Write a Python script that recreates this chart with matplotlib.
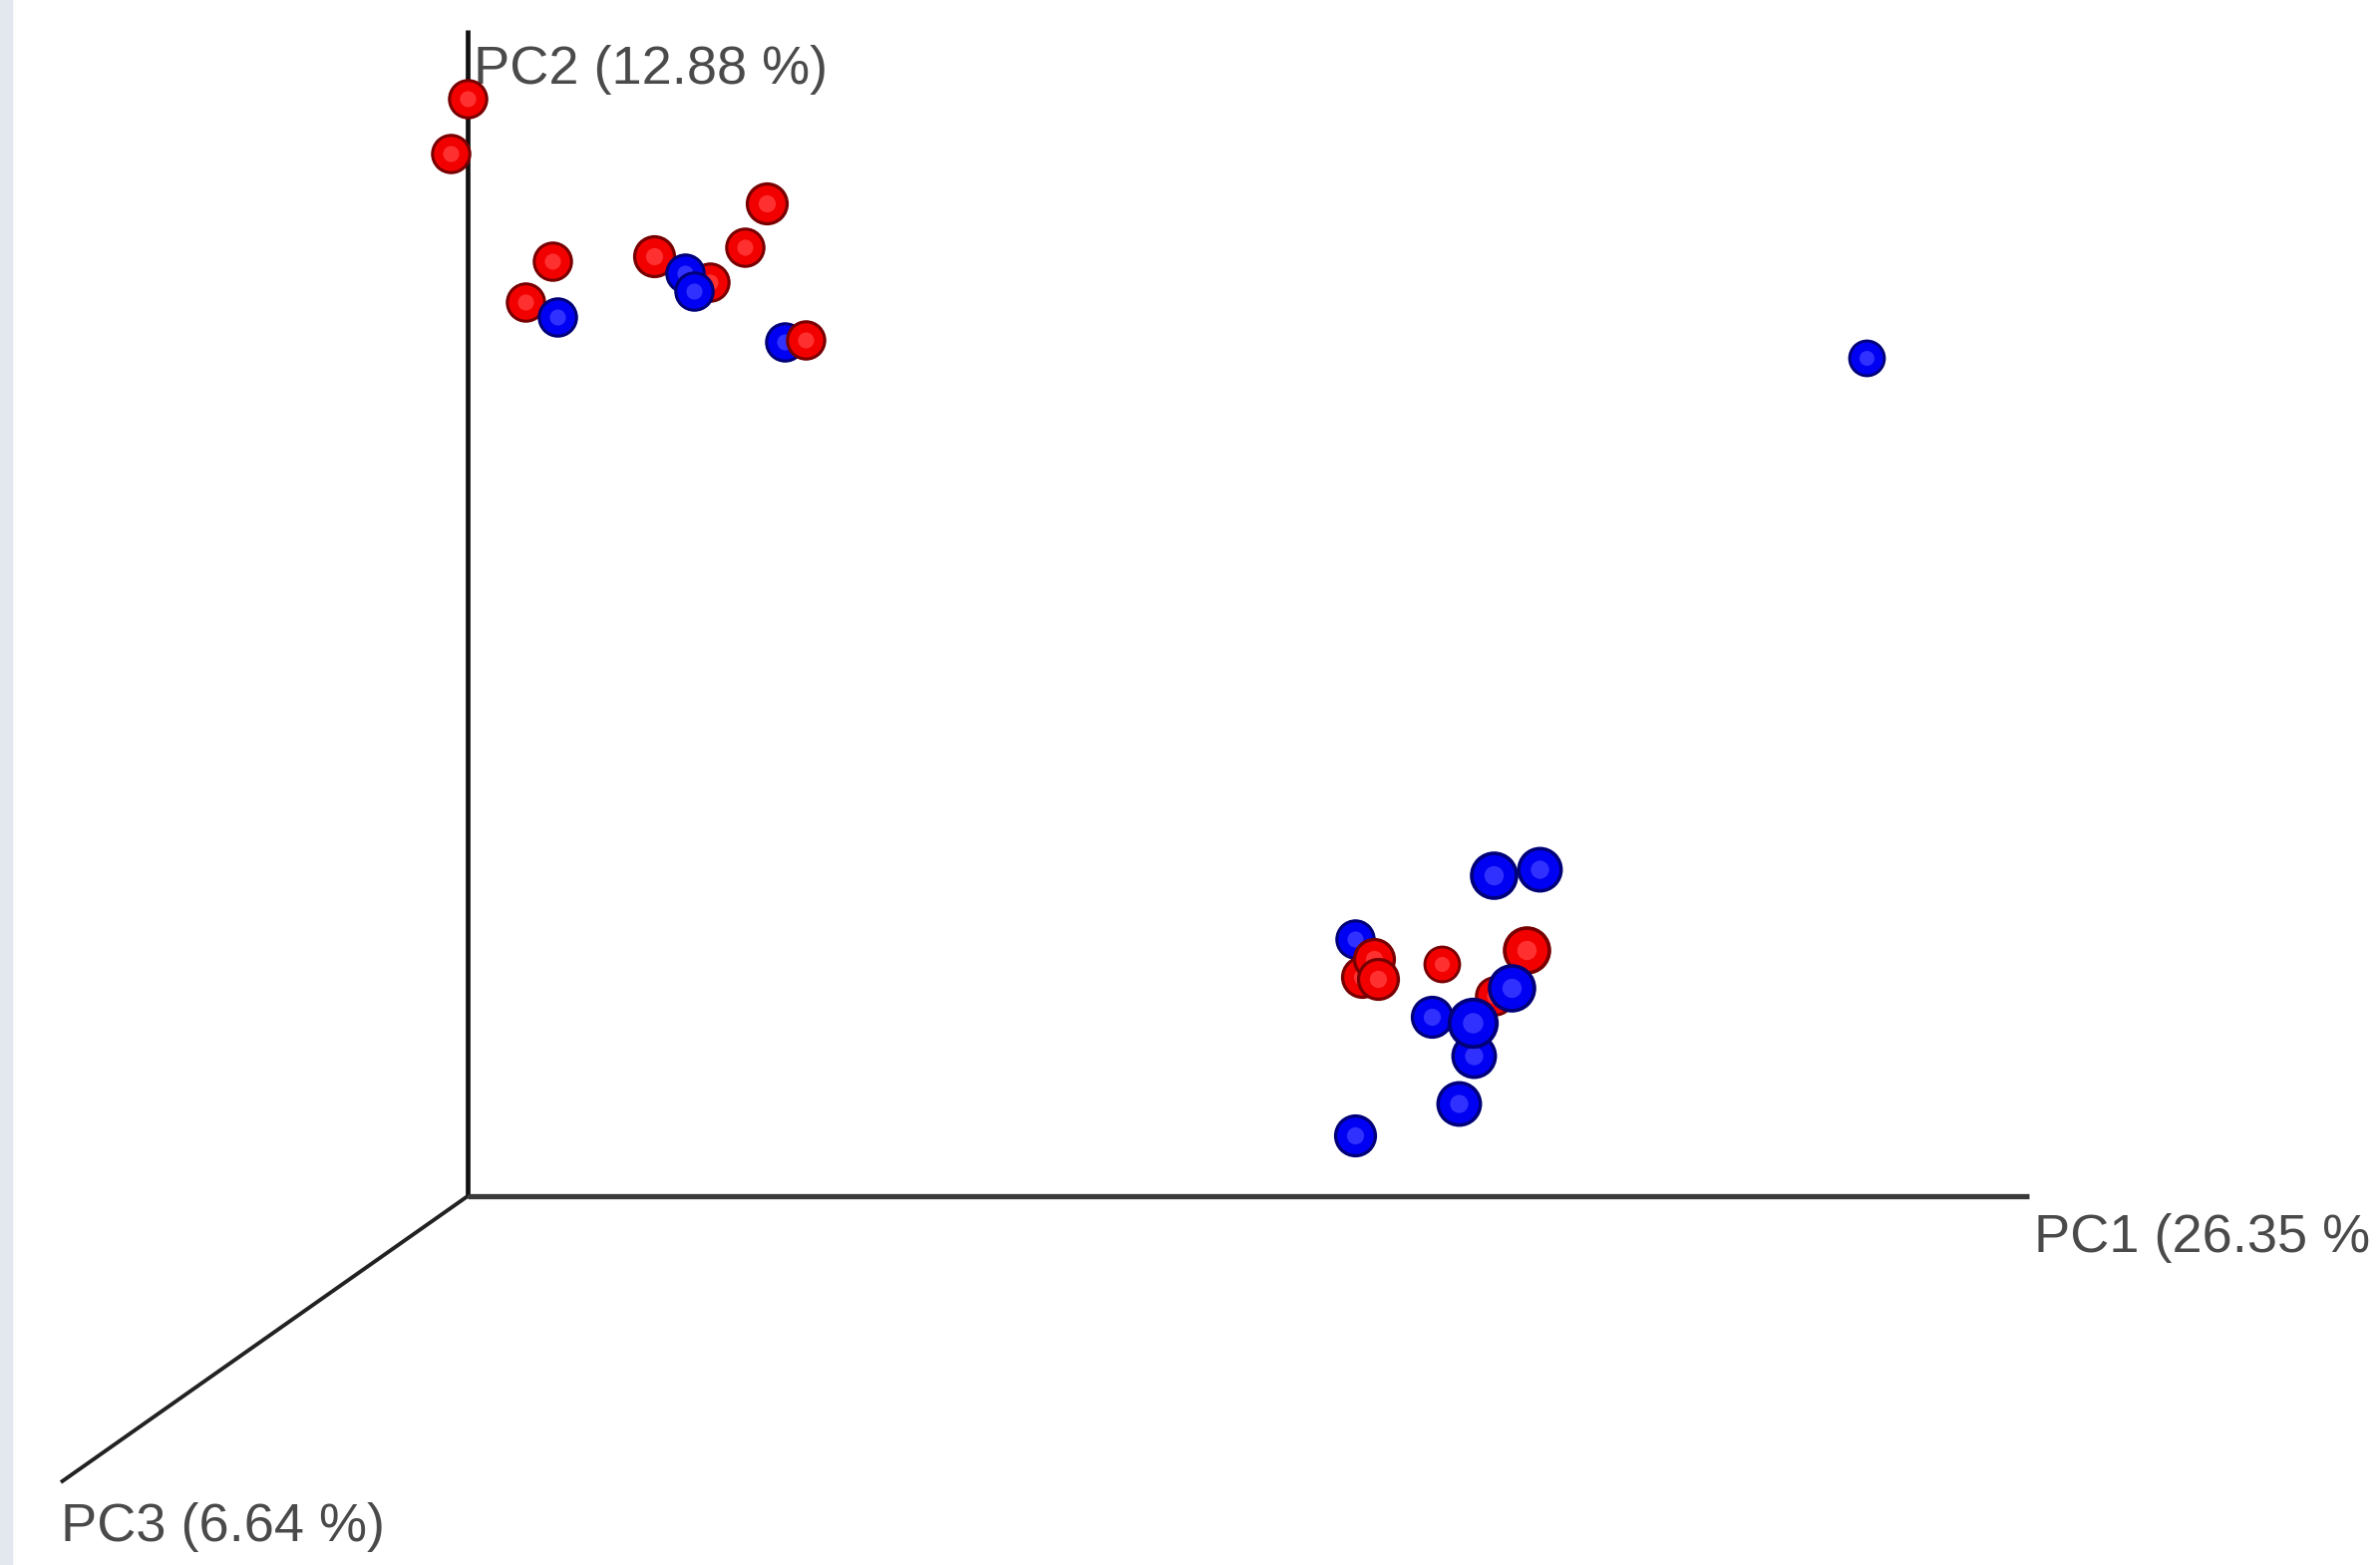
import matplotlib.pyplot as plt
import numpy as np

# projected screen positions of the samples (pixels of the 2387x1570 view)
red_x = [469, 452, 554, 527, 656, 712, 747, 769, 808,
         1378, 1366, 1382, 1446, 1531, 1499]
red_y = [99, 154, 262, 303, 257, 283, 248, 204, 341,
         962, 980, 982, 967, 953, 999]
red_d = [30, 30, 30, 30, 32, 30, 30, 32, 30,
         32, 32, 32, 28, 36, 30]
red_z = [5, 5, 5, 4, 5, 3, 5, 5, 6,
         12, 11, 13, 12, 12, 10]

blue_x = [559, 687, 696, 787, 1872,
          1498, 1544, 1359, 1516, 1436, 1477, 1478, 1463, 1359]
blue_y = [318, 274, 292, 343, 359,
          878, 872, 942, 991, 1020, 1026, 1059, 1107, 1139]
blue_d = [30, 30, 30, 30, 28,
          36, 34, 30, 36, 32, 38, 34, 34, 32]
blue_z = [6, 6, 7, 5, 5,
          12, 12, 10, 14, 12, 15, 14, 12, 12]

axis_labels = ['PC1 (26.35 %', 'PC2 (12.88 %)', 'PC3 (6.64 %)']

W, H = 2387, 1570
fig = plt.figure(figsize=(W / 100, H / 100), dpi=100)
ax = fig.add_axes([0, 0, 1, 1])
ax.set_xlim(0, W)
ax.set_ylim(H, 0)
ax.axis('off')

# light strip on the left border
ax.axvspan(0, 12, color='#e3e7ee', zorder=0)

# axes of the 3d view
ox, oy = 469, 1200
ax.plot([ox, ox], [30, oy], color='#111111', lw=3.4, solid_capstyle='butt', zorder=1)
ax.plot([ox, 2035], [oy, oy], color='#3a3a3a', lw=3.8, solid_capstyle='butt', zorder=1)
ax.plot([ox, 61], [oy, 1487], color='#222222', lw=2.8, solid_capstyle='butt', zorder=1)

font = dict(family='Liberation Sans', fontsize=39, color='#4a4a4a')
ax.text(2040, 1242, axis_labels[0], ha='left', va='center', **font)
ax.text(475, 70, axis_labels[1], ha='left', va='center', **font)
ax.text(61, 1532, axis_labels[2], ha='left', va='center', **font)


def sphere(x, y, d, z, dark, mid, light):
    s = (0.72 * d * 1.35) ** 2
    ax.scatter([x], [y], s=s, color=dark, lw=0, zorder=z)
    ax.scatter([x], [y], s=s * 0.72, color=mid, lw=0, zorder=z + 0.01)
    ax.scatter([x], [y], s=s * 0.16, color=light, lw=0, zorder=z + 0.02)


for i in range(len(red_x)):
    sphere(red_x[i], red_y[i], red_d[i], red_z[i], '#780000', '#f20000', '#ff3030')
for i in range(len(blue_x)):
    sphere(blue_x[i], blue_y[i], blue_d[i], blue_z[i], '#000078', '#0000f2', '#3030ff')

plt.savefig('out.png', dpi=100)
